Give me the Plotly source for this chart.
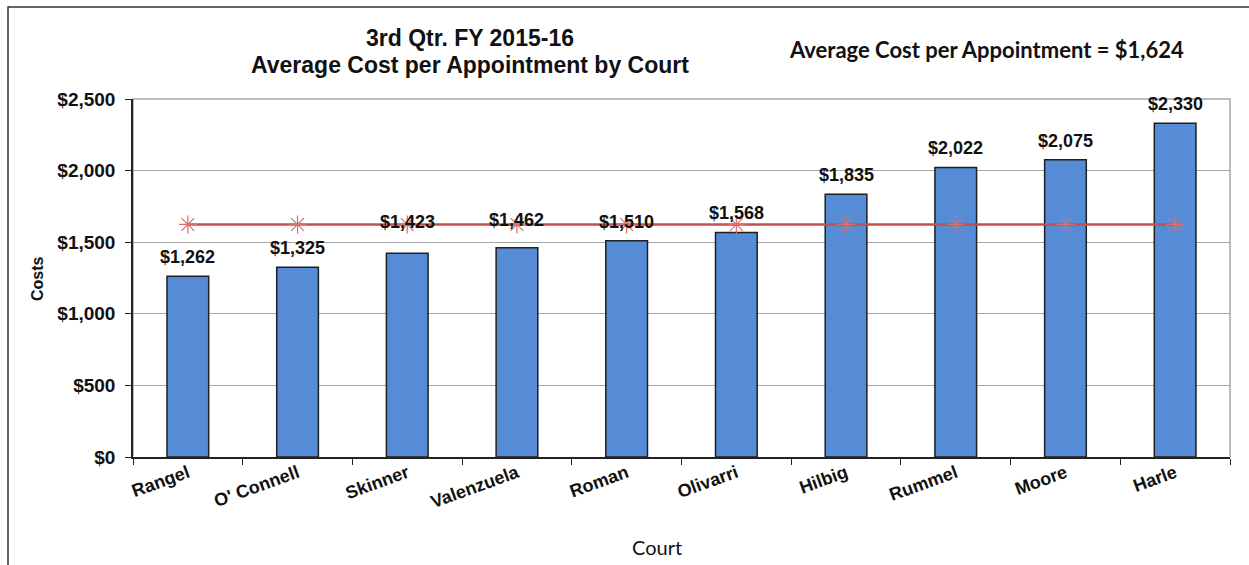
import plotly.graph_objects as go

courts = ["Rangel", "O' Connell", "Skinner", "Valenzuela", "Roman", "Olivarri",
          "Hilbig", "Rummel", "Moore", "Harle"]
costs = [1262, 1325, 1423, 1462, 1510, 1568, 1835, 2022, 2075, 2330]
average = 1624
avg_line = [average] * len(courts)
y_ticks = [0, 500, 1000, 1500, 2000, 2500]
y_tick_labels = ["$0", "$500", "$1,000", "$1,500", "$2,000", "$2,500"]
title_lines = ["3rd Qtr. FY 2015-16", "Average Cost per Appointment by Court"]
avg_text = f"Average Cost per Appointment = ${average:,}"

# style: pixel lift of each value label above its bar (two were moved up in the original)
label_lift_default = 19
label_lift_special = {"Skinner": 31, "Valenzuela": 28}

W, H = 1249, 565
L, R, T, B = 133, 19, 99, 108
PW, PH = W - L - R, H - T - B


def px(x):
    return (x - L) / PW


def py(y):
    return (H - B - y) / PH


fig = go.Figure()
fig.add_trace(go.Bar(
    x=courts, y=costs,
    marker=dict(color="#558CD5", line=dict(color="#1f1f1f", width=1.5)),
    width=0.38,
))
fig.add_trace(go.Scatter(
    x=courts, y=avg_line, mode="lines+markers",
    line=dict(color="#C0504D", width=2.5),
    marker=dict(symbol="asterisk-open", size=15, color="#D86E6B",
                line=dict(color="#D86E6B", width=1.2)),
))

for c, v in zip(courts, costs):
    fig.add_annotation(x=c, y=v, xref="x", yref="y", text=f"<b>${v:,}</b>",
                       showarrow=False, xanchor="center", yanchor="middle",
                       yshift=label_lift_special.get(c, label_lift_default),
                       font=dict(family="Arial", size=18, color="#111111"))

fig.update_layout(
    width=W, height=H,
    margin=dict(l=L, r=R, t=T, b=B, autoexpand=False),
    paper_bgcolor="white", plot_bgcolor="white",
    showlegend=False,
    font=dict(family="Arial", color="#111111"),
    xaxis=dict(
        range=[-0.5, len(courts) - 0.5],
        tickangle=-20, tickfont=dict(family="Arial", size=18, color="#111111", weight="bold"),
        ticks="outside", ticklen=6, tickcolor="#222222", tickson="boundaries",
        ticklabelstandoff=-3,
        showline=True, linecolor="#222222", linewidth=1.5, mirror=False,
    ),
    yaxis=dict(
        range=[0, 2500], tickvals=y_ticks, ticktext=y_tick_labels,
        tickfont=dict(family="Arial", size=19, color="#111111", weight="bold"),
        ticks="outside", ticklen=6, tickcolor="#222222", ticklabelstandoff=6,
        showline=True, linecolor="#222222", linewidth=1.5,
        showgrid=True, gridcolor="#a6a6a6", gridwidth=1.2,
    ),
)
# plot-area border (top/right gray)
fig.add_shape(type="rect", xref="paper", yref="paper", x0=0, x1=1, y0=0, y1=1,
              line=dict(color="#a6a6a6", width=1.5), layer="below")
# outer chart frame
fig.add_shape(type="rect", xref="paper", yref="paper",
              x0=px(8), x1=px(1260), y0=py(580), y1=py(7),
              line=dict(color="#333333", width=1.5))

# title lines
for txt, yy in zip(title_lines, [38, 65]):
    fig.add_annotation(text=f"<b>{txt}</b>", xref="paper", yref="paper",
                       x=px(470), y=py(yy), xanchor="center", yanchor="middle",
                       showarrow=False,
                       font=dict(family="Arial", size=23, color="#111111"))
fig.add_annotation(text=f"<b>{avg_text}</b>",
                   xref="paper", yref="paper", x=px(986), y=py(50),
                   xanchor="center", yanchor="middle", showarrow=False,
                   font=dict(family="Lato", size=22, color="#111111"))
# axis titles
fig.add_annotation(text="Court", xref="paper", yref="paper", x=px(657), y=py(547),
                   xanchor="center", yanchor="middle", showarrow=False,
                   font=dict(family="Lato", size=20, color="#111111"))
fig.add_annotation(text="<b>Costs</b>", xref="paper", yref="paper", x=px(37), y=py(279),
                   xanchor="center", yanchor="middle", showarrow=False, textangle=-90,
                   font=dict(family="Arial", size=16, color="#111111"))

fig.write_html("out.html", config={"displayModeBar": False},
               post_script="document.body.style.margin='0';document.body.style.overflow='hidden';")
